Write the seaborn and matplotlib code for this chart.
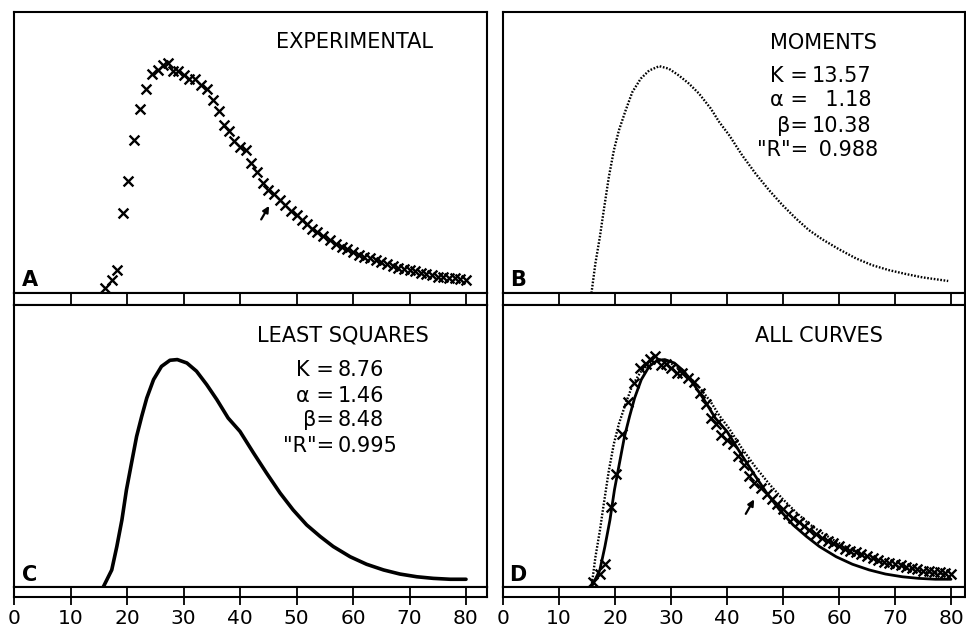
import matplotlib
matplotlib.use("Agg")
import matplotlib.pyplot as plt
import seaborn as sns

sns.set_style("white")
plt.rcParams['font.family'] = ['DejaVu Sans', 'Noto Sans']
plt.rcParams['text.color'] = 'black'
plt.rcParams['xtick.color'] = 'black'
plt.rcParams['xtick.labelcolor'] = 'black'

# Experimental dye-dilution points (time in s, concentration in arbitrary units)
time_exp = [16.1, 17.3, 18.3, 19.35, 20.2, 21.3, 22.3, 23.4, 24.4, 25.5, 26.3, 27.2,
            28.2, 29.1, 30.0, 31.0, 32.0, 33.1, 34.1, 35.2, 36.2, 37.2, 38.1, 39.0,
            40.0, 41.0, 41.9, 43.0, 44.0, 44.9, 46.1, 47.1, 48.0, 49.0, 50.0, 50.9,
            51.8, 52.8, 53.7, 54.7, 55.9, 57.0, 58.0, 58.9, 60.0, 61.0, 62.0, 63.0,
            64.0, 65.0, 66.0, 67.0, 68.0, 69.0, 70.0, 71.0, 72.0, 73.0, 74.0, 75.0,
            76.0, 77.0, 78.0, 79.0, 80.0]
conc_exp = [2.3, 5.7, 10.1, 35.1, 49.5, 67.4, 81.4, 89.9, 96.5, 98.2, 100.4, 101.5,
            97.8, 97.9, 96.3, 94.3, 94.3, 92.0, 90.0, 85.2, 80.3, 74.1, 71.6, 67.0,
            64.5, 63.0, 57.4, 53.6, 48.7, 45.6, 43.5, 41.0, 38.8, 36.4, 34.2, 32.2,
            30.5, 28.4, 27.0, 25.0, 23.3, 21.7, 20.4, 19.2, 18.2, 16.9, 16.0, 15.3,
            14.4, 13.6, 12.8, 12.0, 11.2, 10.6, 10.1, 9.5, 9.0, 8.4, 7.8, 7.2,
            7.0, 6.7, 6.4, 6.0, 5.7]

# Curve fitted by moments (K=13.57, alpha=1.18, beta=10.38)
time_mom = [15.8, 16.5, 17.3, 18.0, 18.9, 19.8, 20.7, 21.9, 23.1, 24.6, 26.1, 27.9,
            29.6, 31.4, 33.2, 35.0, 37.1, 38.6, 40.4, 42.7, 45.1, 47.5, 49.9, 52.3,
            54.6, 57.0, 60.0, 63.0, 65.9, 68.9, 71.9, 74.9, 79.5]
conc_mom = [0.0, 13.1, 24.8, 36.6, 51.2, 63.0, 71.8, 80.6, 88.7, 94.6, 98.2, 100.1,
            99.0, 96.0, 92.4, 88.0, 81.4, 75.5, 69.6, 60.8, 52.7, 45.4, 38.8, 32.9,
            27.8, 23.7, 19.3, 15.3, 12.3, 10.1, 8.4, 6.9, 5.3]

# Curve fitted by least squares (K=8.76, alpha=1.46, beta=8.48)
time_lsq = [15.8, 17.3, 18.2, 19.1, 19.9, 20.8, 21.7, 22.6, 23.5, 24.7, 26.1, 27.6,
            28.9, 30.6, 32.3, 34.1, 35.9, 37.9, 40.0, 42.4, 44.7, 47.1, 49.4, 51.8,
            54.2, 56.5, 59.5, 62.4, 65.4, 68.3, 71.3, 74.2, 77.2, 80.0]
conc_lsq = [0.0, 7.5, 17.8, 29.5, 42.7, 54.5, 66.2, 75.0, 83.1, 91.2, 97.0, 99.7,
            100.0, 98.5, 94.9, 89.0, 82.4, 74.3, 68.4, 58.9, 50.1, 41.3, 33.9, 27.3,
            22.2, 17.8, 13.3, 10.0, 7.5, 5.7, 4.5, 3.8, 3.4, 3.4]

x_ticks = [0, 10, 20, 30, 40, 50, 60, 70, 80]
x_labels = ['0', '10', '20', '30', '40', '50', '60', '70', '80']

mom_text = [("K =", "13.57"), ("α =", "  1.18"), ("β=", "10.38"), ('"R"=', " 0.988")]
lsq_text = [("K =", "8.76"), ("α =", "1.46"), ("β=", "8.48"), ('"R"=', "0.995")]

W, H = 966, 633
fig = plt.figure(figsize=(W / 100, H / 100), dpi=100)


def box(x0, y0, x1, y1):
    # pixel rectangle (top-left origin) -> figure fraction
    return [x0 / W, 1 - y1 / H, (x1 - x0) / W, (y1 - y0) / H]


def px(x, y):
    return x / W, 1 - y / H


def panel(x0, x1, y0, y1, xmax):
    ax = fig.add_axes(box(x0, y0, x1, y1))
    ax.set_xlim(0, xmax)
    ax.set_ylim(0, 124)
    ax.set_xticks([])
    ax.set_yticks([])
    for s in ax.spines.values():
        s.set_linewidth(1.5)
        s.set_color('black')
    return ax


def strip(x0, x1, y0, y1, xmax, labels):
    ax = fig.add_axes(box(x0, y0, x1, y1))
    ax.set_xlim(0, xmax)
    ax.set_yticks([])
    ax.set_xticks(x_ticks)
    ax.grid(axis='x', color='black', linewidth=1.3)
    for s in ax.spines.values():
        s.set_linewidth(1.5)
        s.set_color('black')
    if labels:
        ax.set_xticklabels(x_labels, fontsize=14.5, color='black')
        ax.tick_params(axis='x', direction='out', length=6, width=1.3,
                       bottom=True, pad=2.5, colors='black')
    else:
        ax.set_xticklabels([])
        ax.tick_params(axis='x', length=0)
    return ax


LX0, LX1, RX0, RX1 = 14, 487, 503, 965
xmax_l = (LX1 - LX0) / 5.65
xmax_r = (RX1 - RX0) / 5.6

axA = panel(LX0, LX1, 12, 293, xmax_l)
strip(LX0, LX1, 293, 305, xmax_l, False)
axC = panel(LX0, LX1, 305, 587, xmax_l)
strip(LX0, LX1, 587, 597, xmax_l, True)

axB = panel(RX0, RX1, 12, 293, xmax_r)
strip(RX0, RX1, 293, 305, xmax_r, False)
axD = panel(RX0, RX1, 305, 587, xmax_r)
strip(RX0, RX1, 587, 597, xmax_r, True)


def draw_exp(ax):
    sns.scatterplot(x=time_exp, y=conc_exp, marker='x', s=50, color='black',
                    linewidth=1.7, ax=ax, clip_on=False, zorder=3)


def draw_mom(ax):
    sns.lineplot(x=time_mom, y=conc_mom, color='black', linewidth=1.7,
                 linestyle=(0, (0.7, 0.7)), ax=ax, errorbar=None, clip_on=False)


def draw_lsq(ax, lw):
    sns.lineplot(x=time_lsq, y=conc_lsq, color='black', linewidth=lw,
                 ax=ax, errorbar=None, clip_on=False)


draw_exp(axA)
axA.annotate('', xy=(45.4, 39.5), xytext=(43.5, 31.4),
             arrowprops=dict(arrowstyle='-|>', color='black', lw=1.6,
                             mutation_scale=9))

draw_mom(axB)
draw_lsq(axC, 2.6)

draw_lsq(axD, 2.0)
draw_mom(axD)
draw_exp(axD)
axD.annotate('', xy=(45.1, 39.6), xytext=(43.1, 31.1),
             arrowprops=dict(arrowstyle='-|>', color='black', lw=1.6,
                             mutation_scale=9))

# titles
fig.text(*px(355, 42), "EXPERIMENTAL", fontsize=15, ha='center', va='center')
fig.text(*px(823, 43), "MOMENTS", fontsize=15, ha='center', va='center')
fig.text(*px(343, 336), "LEAST SQUARES", fontsize=15, ha='center', va='center')
fig.text(*px(819, 336), "ALL CURVES", fontsize=15, ha='center', va='center')

# parameter blocks
for i, (lab, val) in enumerate(mom_text):
    y = 75.5 + 25 * i
    fig.text(*px(808, y), lab, fontsize=15, ha='right', va='center')
    fig.text(*px(812, y), val, fontsize=15, ha='left', va='center')
for i, (lab, val) in enumerate(lsq_text):
    y = 370.5 + 25 * i
    fig.text(*px(334, y), lab, fontsize=15, ha='right', va='center')
    fig.text(*px(338, y), val, fontsize=15, ha='left', va='center')

# panel letters
for lx, ly, let in [(30, 280, 'A'), (518, 280, 'B'), (30, 575, 'C'), (518, 575, 'D')]:
    fig.text(*px(lx, ly), let, fontsize=15, fontweight='bold', ha='center', va='center')

fig.savefig("out.png", dpi=100, facecolor='white')
